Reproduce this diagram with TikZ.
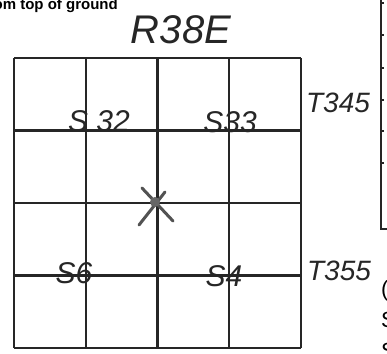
\documentclass[tikz,border=0pt]{standalone}
\usepackage{fontspec}
\usepackage{xcolor}
\setmainfont{Liberation Sans}
\newfontfamily\handfont{Liberation Sans}

\begin{document}
\begin{tikzpicture}[x=1pt, y=-1pt]
    \colorlet{pencil}{black!85}
    \colorlet{gridline}{black!85}
    \tikzset{
        hand/.style={pencil, font=\handfont\itshape\fontsize{30}{30}\selectfont, inner sep=0pt},
        printed/.style={black, font=\bfseries\fontsize{15}{15}\selectfont, inner sep=0pt}
    }
    \useasboundingbox (0,0) rectangle (387,353);
    \clip (0,0) rectangle (387,353);
    \fill[white] (0,0) rectangle (387,353);

    \node[printed, anchor=base east] (caption) at (118,10) {from top of ground};

    \foreach \i in {0,...,4} \draw[gridline, line width=2.2pt] (14+71.75*\i,58) -- (14+71.75*\i,348);
    \foreach \j in {0,...,4} \draw[gridline, line width=2.2pt] (14,58+72.5*\j) -- (301,58+72.5*\j);

    \draw[gridline, line width=1.8pt] (381,0) -- (381,229) -- (388,229);
    \foreach \y in {3, 35, 68, 100, 131, 163} \draw[gridline, line width=1.4pt] (381,\y) -- (384,\y);

    \node[hand, font=\handfont\itshape\fontsize{40}{40}\selectfont] (range) at (181,30) {R38E};
    \node[hand] (sec32) at (99,121) {S 32};
    \node[hand] (sec33) at (230,122) {S33};
    \node[hand, font=\handfont\itshape\fontsize{28}{28}\selectfont] (twpnorth) at (338,103) {T345};
    \node[hand] (sec6) at (74,273) {S6};
    \node[hand] (sec4) at (224,276) {S4};
    \node[hand, font=\handfont\itshape\fontsize{28}{28}\selectfont] (twpsouth) at (339,271) {T355};

    \draw[pencil!80, line width=3pt, line cap=round] (142,188) -- (173,221);
    \draw[pencil!80, line width=3pt, line cap=round] (165,192) -- (139,225);
    \fill[pencil!70] (155,202) circle (5);

    \node[printed, font=\fontsize{22}{22}\selectfont, anchor=base west] (noteA) at (381,296) {(};
    \node[printed, font=\fontsize{22}{22}\selectfont, anchor=base west] (noteB) at (381,327) {S};
    \node[printed, font=\fontsize{22}{22}\selectfont, anchor=base west] (noteC) at (381,358) {S};
\end{tikzpicture}
\end{document}
